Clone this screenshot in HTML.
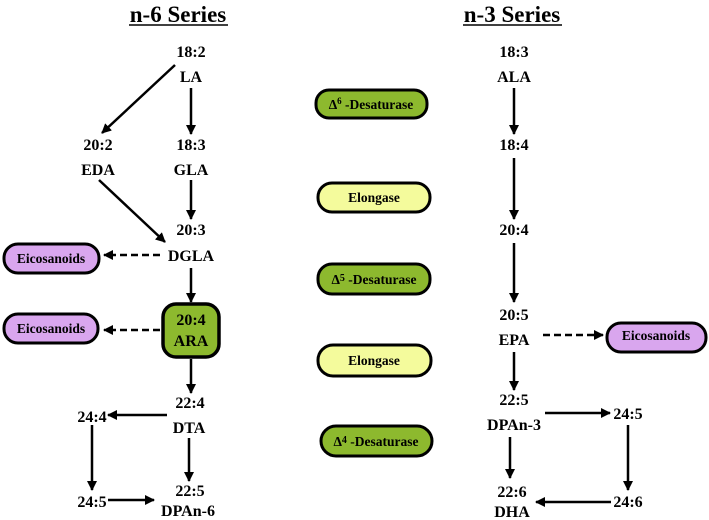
<!DOCTYPE html>
<html><head><meta charset="utf-8"><style>
body{margin:0;background:#fff;}
svg{display:block;font-family:"Liberation Serif",serif;font-weight:bold;}
</style></head><body>
<svg width="709" height="520" viewBox="0 0 709 520" xmlns="http://www.w3.org/2000/svg">
<defs><marker id="a" markerWidth="10" markerHeight="10" refX="9" refY="5" orient="auto" markerUnits="userSpaceOnUse"><path d="M0,0 L10,5 L0,10 z" fill="#000"/></marker></defs>
<g font-size="23" text-anchor="middle">
<text x="178" y="22">n-6 Series</text>
<text x="512" y="22">n-3 Series</text>
</g>
<line x1="129" y1="25" x2="228" y2="25" stroke="#000" stroke-width="1.5"/>
<line x1="463" y1="25" x2="562" y2="25" stroke="#000" stroke-width="1.5"/>
<g fill="#000" stroke="#000" stroke-width="3">
<rect x="316" y="90" width="111" height="28" rx="13" fill="#8db92e"/>
<rect x="318" y="183" width="112" height="29" rx="14" fill="#f4fb9c"/>
<rect x="318" y="264" width="112" height="30" rx="14" fill="#8db92e"/>
<rect x="318" y="345" width="113" height="31" rx="15" fill="#f4fb9c"/>
<rect x="321" y="426" width="111" height="30" rx="15" fill="#8db92e"/>
<rect x="4" y="244" width="95" height="29" rx="14" fill="#d9a6ee"/>
<rect x="4" y="314" width="94" height="29" rx="14" fill="#d9a6ee"/>
<rect x="607" y="323" width="99" height="29" rx="14" fill="#d9a6ee"/>
<rect x="163" y="304" width="56" height="53" rx="13" fill="#8db92e" stroke-width="3.5"/>
</g>
<g stroke="#000" stroke-width="2.5" fill="none" marker-end="url(#a)">
<line x1="175" y1="65" x2="102" y2="133"/>
<line x1="191" y1="88" x2="191" y2="134"/>
<line x1="191" y1="180" x2="191" y2="219"/>
<line x1="99" y1="180" x2="165" y2="242"/>
<line x1="191" y1="268" x2="191" y2="302"/>
<line x1="191" y1="359" x2="191" y2="393"/>
<line x1="167" y1="415" x2="108" y2="415"/>
<line x1="92" y1="425" x2="92" y2="490"/>
<line x1="108" y1="500" x2="154" y2="500"/>
<line x1="189" y1="438" x2="189" y2="481"/>
<line x1="160" y1="255" x2="104" y2="255" stroke-dasharray="7,4"/>
<line x1="160" y1="330" x2="104" y2="330" stroke-dasharray="7,4"/>
<line x1="514" y1="88" x2="514" y2="134"/>
<line x1="514" y1="158" x2="514" y2="219"/>
<line x1="514" y1="243" x2="514" y2="302"/>
<line x1="543" y1="335" x2="603" y2="335" stroke-dasharray="7,4"/>
<line x1="514" y1="352" x2="514" y2="390"/>
<line x1="545" y1="413" x2="610" y2="413"/>
<line x1="628" y1="425" x2="628" y2="490"/>
<line x1="611" y1="502" x2="536" y2="502"/>
<line x1="510" y1="437" x2="510" y2="478"/>
</g>
<g font-size="16" text-anchor="middle" fill="#000">
<text x="191" y="57">18:2</text><text x="191" y="82">LA</text>
<text x="98" y="150">20:2</text><text x="98" y="175">EDA</text>
<text x="191" y="150">18:3</text><text x="191" y="175">GLA</text>
<text x="191" y="235">20:3</text><text x="191" y="261">DGLA</text>
<text x="191" y="325">20:4</text><text x="191" y="346">ARA</text>
<text x="190" y="408">22:4</text><text x="189" y="433">DTA</text>
<text x="92" y="422">24:4</text>
<text x="190" y="496">22:5</text><text x="188" y="516">DPAn-6</text>
<text x="92" y="507">24:5</text>
<text x="514" y="57">18:3</text><text x="514" y="82">ALA</text>
<text x="514" y="150">18:4</text>
<text x="514" y="235">20:4</text>
<text x="514" y="320">20:5</text><text x="514" y="345">EPA</text>
<text x="514" y="405">22:5</text><text x="514" y="430">DPAn-3</text>
<text x="628" y="419">24:5</text>
<text x="512" y="497">22:6</text><text x="512" y="517">DHA</text>
<text x="628" y="507">24:6</text>
</g>
<g font-size="13.5" text-anchor="middle" fill="#000">
<text x="371" y="109">Δ<tspan font-size="9" dy="-5">6</tspan><tspan dy="5"> -Desaturase</tspan></text>
<text x="374" y="202">Elongase</text>
<text x="374" y="284">Δ<tspan font-size="10" dy="-3">5</tspan><tspan dy="3"> -Desaturase</tspan></text>
<text x="374" y="365">Elongase</text>
<text x="376" y="446">Δ<tspan font-size="10" dy="-3">4</tspan><tspan dy="3"> -Desaturase</tspan></text>
<text x="51" y="263">Eicosanoids</text>
<text x="51" y="333">Eicosanoids</text>
<text x="656" y="340">Eicosanoids</text>
</g>
</svg>
</body></html>
